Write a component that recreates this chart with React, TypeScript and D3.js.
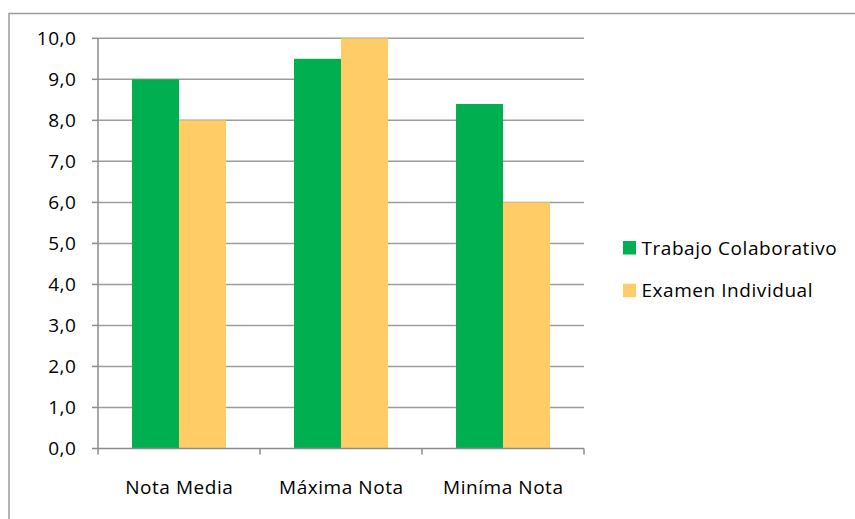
import React from "react";
import * as d3 from "d3";

const categories = ["Nota Media", "Máxima Nota", "Miníma Nota"];
const seriesNames = ["Trabajo Colaborativo", "Examen Individual"];
const colaborativo = [9.0, 9.5, 8.4];
const individual = [8.0, 10.0, 6.0];
const yTicks = [0, 1, 2, 3, 4, 5, 6, 7, 8, 9, 10];
const colors = ["#00B050", "#FFCC66"];

const W = 855;
const H = 519;
const left = 98;
const right = 584;
const top = 38.3;
const bottom = 448.5;
const FONT = "'Open Sans', sans-serif";
const FS = 19;
const LS = 0.55;

export default function App() {
  const x = d3.scaleBand<string>().domain(categories).range([left, right]).paddingInner(0).paddingOuter(0);
  const groupPad = 0.21;
  const x1 = d3
    .scaleBand<string>()
    .domain(seriesNames)
    .range([x.bandwidth() * groupPad, x.bandwidth() * (1 - groupPad)]);
  const y = d3.scaleLinear().domain([0, 10]).range([bottom, top]);
  const series = [colaborativo, individual];
  const fmt = (v: number) => v.toFixed(1).replace(".", ",");
  const boundaries = [...categories.map((c) => x(c) as number), right];

  return (
    <svg
      width={W}
      height={H}
      style={{ position: "absolute", left: 0, top: 0, display: "block", background: "#fff" }}
    >
      <rect x={9} y={13.5} width={W + 20} height={H + 20} fill="#fff" stroke="#9a9a9a" strokeWidth={1.5} />
      {yTicks.map((t) => (
        <g key={t}>
          {t > 0 && (
            <line x1={left} x2={right} y1={y(t)} y2={y(t)} stroke="#9c9c9c" strokeWidth={1.5} />
          )}
          <line x1={left - 6} x2={left} y1={y(t)} y2={y(t)} stroke="#8c8c8c" strokeWidth={1.5} />
          <text
            x={76.5}
            y={y(t)}
            dy="0.36em"
            textAnchor="end"
            fontFamily={FONT}
            fontSize={FS}
            letterSpacing={LS}
            fill="#000"
          >
            {fmt(t)}
          </text>
        </g>
      ))}
      {categories.map((c, i) => (
        <g key={c} transform={`translate(${x(c)},0)`}>
          {series.map((s, j) => (
            <rect
              key={j}
              x={x1(seriesNames[j])}
              y={y(s[i])}
              width={x1.bandwidth()}
              height={y(0) - y(s[i])}
              fill={colors[j]}
            />
          ))}
          <text
            x={x.bandwidth() / 2 + 0.3}
            y={494}
            textAnchor="middle"
            fontFamily={FONT}
            fontSize={FS}
            letterSpacing={LS}
            fill="#000"
          >
            {c}
          </text>
        </g>
      ))}
      <line x1={left} x2={left} y1={top} y2={bottom} stroke="#8c8c8c" strokeWidth={1.5} />
      <line x1={left} x2={right} y1={bottom} y2={bottom} stroke="#8c8c8c" strokeWidth={1.5} />
      {boundaries.map((b, i) => (
        <line key={i} x1={b} x2={b} y1={bottom} y2={bottom + 6} stroke="#8c8c8c" strokeWidth={1.5} />
      ))}
      {seriesNames.map((n, j) => (
        <g key={n} transform={`translate(623,${241 + j * 42.7})`}>
          <rect width={13} height={13.5} fill={colors[j]} />
          <text
            x={18.5}
            y={6.8}
            dy="0.36em"
            fontFamily={FONT}
            fontSize={FS}
            letterSpacing={LS}
            fill="#000"
          >
            {n}
          </text>
        </g>
      ))}
    </svg>
  );
}
